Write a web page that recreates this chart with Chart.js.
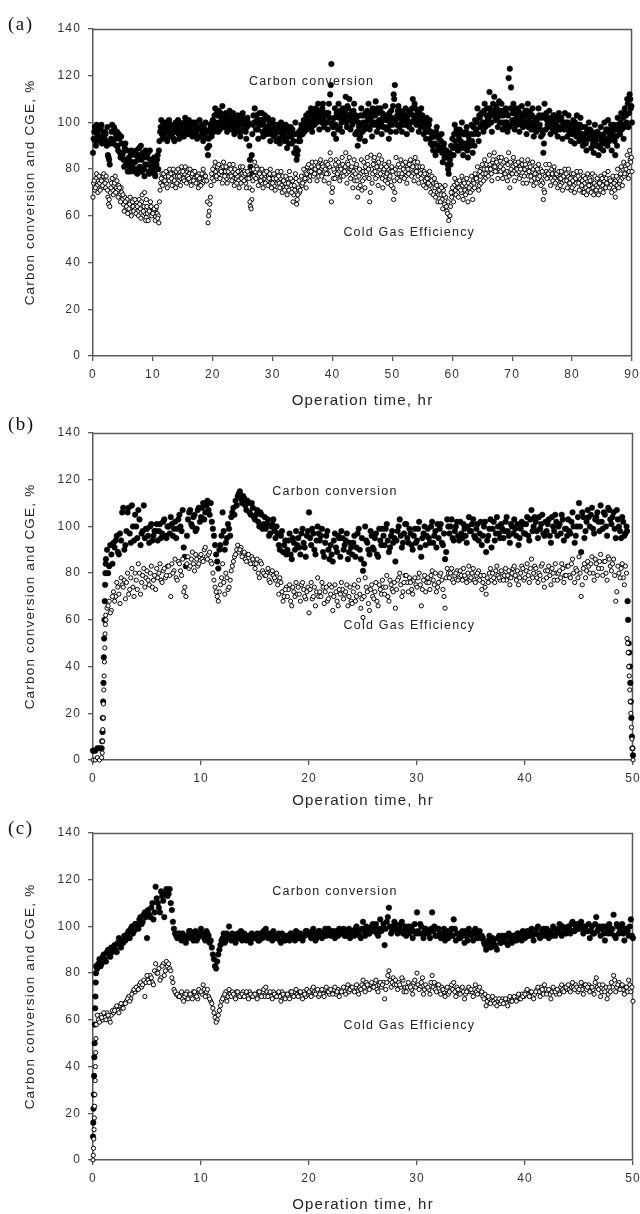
<!DOCTYPE html>
<html><head><meta charset="utf-8">
<script src="https://cdn.jsdelivr.net/npm/chart.js@4.4.1/dist/chart.umd.min.js"></script>
<style>
html,body{margin:0;padding:0;background:#fff;}
#wrap{position:relative;width:640px;height:1214px;overflow:hidden;background:#fff;}
.panel{position:absolute;left:0;width:640px;}
.panel canvas{display:block;}
.tag{position:absolute;left:8px;font-family:"Liberation Serif","Times New Roman",serif;font-size:19px;letter-spacing:1.5px;color:#111;line-height:22px;}
</style></head><body>
<div id="wrap">
  <div class="panel" style="top:0;height:410px"><canvas id="ca" width="640" height="410" style="width:640px;height:410px"></canvas></div>
  <div class="panel" style="top:404px;height:406px"><canvas id="cb" width="640" height="406" style="width:640px;height:406px"></canvas></div>
  <div class="panel" style="top:804px;height:410px"><canvas id="cc" width="640" height="410" style="width:640px;height:410px"></canvas></div>
  <div class="tag" style="top:13px">(a)</div>
  <div class="tag" style="top:413px">(b)</div>
  <div class="tag" style="top:817px">(c)</div>
</div>
<script>
// ---------- tick labels ----------
const Y_TICKS = [0,20,40,60,80,100,120,140];
const X_TICKS_A = [0,10,20,30,40,50,60,70,80,90];
const X_TICKS_BC = [0,10,20,30,40,50];

// ---------- panel (a) ----------
const TIME_A = [
0,.2,.4,.6,.8,1,1.2,1.4,1.6,1.8,
2,2.2,2.4,2.6,2.8,3,3.2,3.4,3.6,3.8,
4,4.2,4.4,4.6,4.8,5,5.2,5.4,5.6,5.8,
6,6.2,6.4,6.6,6.8,7,7.2,7.4,7.6,7.8,
8,8.2,8.4,8.6,8.8,9,9.2,9.4,9.6,9.8,
10,10.2,10.4,10.6,10.8,11,11.2,11.4,11.6,11.8,
12,12.2,12.4,12.6,12.8,13,13.2,13.4,13.6,13.8,
14,14.2,14.4,14.6,14.8,15,15.2,15.4,15.6,15.8,
16,16.2,16.4,16.6,16.8,17,17.2,17.4,17.6,17.8,
18,18.2,18.4,18.6,18.8,19,19.2,19.4,19.6,19.8,
20,20.2,20.4,20.6,20.8,21,21.2,21.4,21.6,21.8,
22,22.2,22.4,22.6,22.8,23,23.2,23.4,23.6,23.8,
24,24.2,24.4,24.6,24.8,25,25.2,25.4,25.6,25.8,
26,26.2,26.4,26.6,26.8,27,27.2,27.4,27.6,27.8,
28,28.2,28.4,28.6,28.8,29,29.2,29.4,29.6,29.8,
30,30.2,30.4,30.6,30.8,31,31.2,31.4,31.6,31.8,
32,32.2,32.4,32.6,32.8,33,33.2,33.4,33.6,33.8,
34,34.2,34.4,34.6,34.8,35,35.2,35.4,35.6,35.8,
36,36.2,36.4,36.6,36.8,37,37.2,37.4,37.6,37.8,
38,38.2,38.4,38.6,38.8,39,39.2,39.4,39.6,39.8,
40,40.2,40.4,40.6,40.8,41,41.2,41.4,41.6,41.8,
42,42.2,42.4,42.6,42.8,43,43.2,43.4,43.6,43.8,
44,44.2,44.4,44.6,44.8,45,45.2,45.4,45.6,45.8,
46,46.2,46.4,46.6,46.8,47,47.2,47.4,47.6,47.8,
48,48.2,48.4,48.6,48.8,49,49.2,49.4,49.6,49.8,
50,50.2,50.4,50.6,50.8,51,51.2,51.4,51.6,51.8,
52,52.2,52.4,52.6,52.8,53,53.2,53.4,53.6,53.8,
54,54.2,54.4,54.6,54.8,55,55.2,55.4,55.6,55.8,
56,56.2,56.4,56.6,56.8,57,57.2,57.4,57.6,57.8,
58,58.2,58.4,58.6,58.8,59,59.2,59.4,59.6,59.8,
60,60.2,60.4,60.6,60.8,61,61.2,61.4,61.6,61.8,
62,62.2,62.4,62.6,62.8,63,63.2,63.4,63.6,63.8,
64,64.2,64.4,64.6,64.8,65,65.2,65.4,65.6,65.8,
66,66.2,66.4,66.6,66.8,67,67.2,67.4,67.6,67.8,
68,68.2,68.4,68.6,68.8,69,69.2,69.4,69.6,69.8,
70,70.2,70.4,70.6,70.8,71,71.2,71.4,71.6,71.8,
72,72.2,72.4,72.6,72.8,73,73.2,73.4,73.6,73.8,
74,74.2,74.4,74.6,74.8,75,75.2,75.4,75.6,75.8,
76,76.2,76.4,76.6,76.8,77,77.2,77.4,77.6,77.8,
78,78.2,78.4,78.6,78.8,79,79.2,79.4,79.6,79.8,
80,80.2,80.4,80.6,80.8,81,81.2,81.4,81.6,81.8,
82,82.2,82.4,82.6,82.8,83,83.2,83.4,83.6,83.8,
84,84.2,84.4,84.6,84.8,85,85.2,85.4,85.6,85.8,
86,86.2,86.4,86.6,86.8,87,87.2,87.4,87.6,87.8,
88,88.2,88.4,88.6,88.8,89,89.2,89.4,89.6,89.8,
90];
const CARBON_A = [
87,96,92,99,94, 97,92,99,94,96, 96,92,98,85,82, 93,99,91,97,95, 96,88,93,85,91, 87,81,91,84,79, 85,79,88,82,80, 83,88,78,86,81, 90,79,85,77,88, 82,87,78,84,80,
79,85,77,82,86, 88,96,101,93,99, 95,100,92,98,96, 99,94,97,92,100, 96,101,93,99,95, 98,94,102,96,100, 101,95,98,94,99, 96,100,93,98,101, 94,99,92,97,100, 96,86,90,99,94,
101,96,106,98,103, 105,97,102,107,99, 98,104,96,101,105, 102,97,104,95,100, 96,103,99,94,101, 104,97,100,93,102, 99,84,78,95,103, 106,97,101,93,104, 99,104,94,101,97, 95,102,98,92,100,
101,94,97,92,99, 96,91,100,94,98, 92,99,89,96,94, 98,91,95,87,100, 84,88,96,92,99, 95,101,97,103,99, 104,98,106,96,101, 99,106,102,108,97, 105,100,108,98,103, 104,97,108,112,125,
100,95,106,93,103, 108,98,104,96,101, 102,111,98,106,110, 97,104,100,108,95, 102,90,98,94,106, 96,103,92,100,105, 108,97,102,94,105, 99,109,96,104,101, 106,95,102,98,107, 97,103,93,100,105,
99,112,116,96,103, 107,98,103,96,101, 100,106,95,103,98, 104,97,110,101,106, 99,105,96,102,106, 103,95,100,93,98, 97,101,91,95,88, 94,86,98,90,93, 89,95,83,91,86, 88,82,78,84,90,
93,86,99,90,96, 88,97,92,100,86, 95,89,98,85,92, 90,99,87,95,101, 97,106,92,102,99, 104,96,108,100,106, 99,113,104,96,108, 111,101,106,98,109, 103,108,97,105,100, 104,96,119,123,115,
101,108,97,104,99, 106,96,102,107,98, 99,105,95,108,102, 104,97,106,94,100, 96,102,106,99,94, 103,87,108,97,101, 99,105,95,102,97, 103,96,100,94,104, 97,102,93,100,104, 100,94,103,96,92,
95,101,91,98,103, 99,92,102,95,90, 92,98,88,96,100, 97,89,94,87,99, 90,96,86,93,98, 94,88,100,91,97, 101,92,97,88,95, 99,86,94,102,97, 95,104,99,93,106, 103,110,98,112,106,
100];
const CGE_A = [
68,75,72,78,70, 77,71,75,73,78, 74,77,71,65,64, 72,76,69,74,70, 75,68,72,66,70, 69,62,66,64,61, 63,68,60,66,62, 67,61,64,60,65, 59,69,62,70,58, 64,58,62,66,60,
61,63,58,64,59, 57,71,76,73,78, 75,79,72,77,80, 78,73,80,75,72, 74,80,77,73,81, 79,75,81,74,77, 76,80,73,78,75, 79,74,77,72,76, 73,78,80,75,77, 75,57,62,68,78,
80,75,83,77,81, 82,76,79,74,83, 77,81,74,79,82, 80,75,82,73,78, 74,79,72,81,76, 81,75,78,72,79, 76,66,63,71,80, 83,76,80,73,78, 75,80,72,78,74, 79,73,76,80,72,
74,78,71,76,79, 77,72,79,70,75, 71,77,69,74,79, 76,70,66,73,78, 65,69,75,71,77, 74,80,76,72,81, 82,75,79,83,77, 78,83,75,81,79, 84,77,81,75,80, 78,82,74,87,66,
72,80,76,84,78, 83,75,80,85,77, 79,87,74,82,85, 76,81,72,84,78, 82,68,77,73,84, 75,83,72,79,85, 80,66,86,74,82, 85,76,81,73,86, 78,84,72,80,75, 81,74,83,77,73,
79,67,70,85,76, 82,75,84,78,80, 76,83,74,80,82, 84,77,81,75,85, 79,83,74,81,76, 81,73,78,72,76, 74,79,70,77,69, 76,68,73,66,71, 66,72,63,69,73, 64,61,58,60,70,
72,66,76,69,74, 68,75,71,77,67, 74,69,76,66,72, 70,77,67,74,78, 76,81,71,79,74, 82,75,84,78,80, 77,86,80,75,84, 87,79,83,76,85, 81,85,76,83,78, 84,75,87,72,80,
78,85,75,82,80, 83,76,80,84,74, 77,82,74,84,79, 81,75,83,73,78, 74,80,82,77,73, 79,67,70,82,76, 78,82,73,80,75, 81,74,78,72,79, 73,79,71,77,80, 78,72,80,74,71,
72,78,70,76,79, 77,71,79,73,70, 70,76,69,78,73, 75,70,78,69,77, 71,76,69,74,77, 76,70,78,72,74, 79,72,75,70,77, 74,68,77,80,72, 75,81,73,83,78, 80,86,76,88,83,
79];
// second (interleaved) readings of panel (a)
const TIME_A2 = [
.1,.3,.5,.7,.9,1.1,1.3,1.5,1.7,1.9,
2.1,2.3,2.5,2.7,2.9,3.1,3.3,3.5,3.7,3.9,
4.1,4.3,4.5,4.7,4.9,5.1,5.3,5.5,5.7,5.9,
6.1,6.3,6.5,6.7,6.9,7.1,7.3,7.5,7.7,7.9,
8.1,8.3,8.5,8.7,8.9,9.1,9.3,9.5,9.7,9.9,
10.1,10.3,10.5,10.7,10.9,11.1,11.3,11.5,11.7,11.9,
12.1,12.3,12.5,12.7,12.9,13.1,13.3,13.5,13.7,13.9,
14.1,14.3,14.5,14.7,14.9,15.1,15.3,15.5,15.7,15.9,
16.1,16.3,16.5,16.7,16.9,17.1,17.3,17.5,17.7,17.9,
18.1,18.3,18.5,18.7,18.9,19.1,19.3,19.5,19.7,19.9,
20.1,20.3,20.5,20.7,20.9,21.1,21.3,21.5,21.7,21.9,
22.1,22.3,22.5,22.7,22.9,23.1,23.3,23.5,23.7,23.9,
24.1,24.3,24.5,24.7,24.9,25.1,25.3,25.5,25.7,25.9,
26.1,26.3,26.5,26.7,26.9,27.1,27.3,27.5,27.7,27.9,
28.1,28.3,28.5,28.7,28.9,29.1,29.3,29.5,29.7,29.9,
30.1,30.3,30.5,30.7,30.9,31.1,31.3,31.5,31.7,31.9,
32.1,32.3,32.5,32.7,32.9,33.1,33.3,33.5,33.7,33.9,
34.1,34.3,34.5,34.7,34.9,35.1,35.3,35.5,35.7,35.9,
36.1,36.3,36.5,36.7,36.9,37.1,37.3,37.5,37.7,37.9,
38.1,38.3,38.5,38.7,38.9,39.1,39.3,39.5,39.7,39.9,
40.1,40.3,40.5,40.7,40.9,41.1,41.3,41.5,41.7,41.9,
42.1,42.3,42.5,42.7,42.9,43.1,43.3,43.5,43.7,43.9,
44.1,44.3,44.5,44.7,44.9,45.1,45.3,45.5,45.7,45.9,
46.1,46.3,46.5,46.7,46.9,47.1,47.3,47.5,47.7,47.9,
48.1,48.3,48.5,48.7,48.9,49.1,49.3,49.5,49.7,49.9,
50.1,50.3,50.5,50.7,50.9,51.1,51.3,51.5,51.7,51.9,
52.1,52.3,52.5,52.7,52.9,53.1,53.3,53.5,53.7,53.9,
54.1,54.3,54.5,54.7,54.9,55.1,55.3,55.5,55.7,55.9,
56.1,56.3,56.5,56.7,56.9,57.1,57.3,57.5,57.7,57.9,
58.1,58.3,58.5,58.7,58.9,59.1,59.3,59.5,59.7,59.9,
60.1,60.3,60.5,60.7,60.9,61.1,61.3,61.5,61.7,61.9,
62.1,62.3,62.5,62.7,62.9,63.1,63.3,63.5,63.7,63.9,
64.1,64.3,64.5,64.7,64.9,65.1,65.3,65.5,65.7,65.9,
66.1,66.3,66.5,66.7,66.9,67.1,67.3,67.5,67.7,67.9,
68.1,68.3,68.5,68.7,68.9,69.1,69.3,69.5,69.7,69.9,
70.1,70.3,70.5,70.7,70.9,71.1,71.3,71.5,71.7,71.9,
72.1,72.3,72.5,72.7,72.9,73.1,73.3,73.5,73.7,73.9,
74.1,74.3,74.5,74.7,74.9,75.1,75.3,75.5,75.7,75.9,
76.1,76.3,76.5,76.7,76.9,77.1,77.3,77.5,77.7,77.9,
78.1,78.3,78.5,78.7,78.9,79.1,79.3,79.5,79.7,79.9,
80.1,80.3,80.5,80.7,80.9,81.1,81.3,81.5,81.7,81.9,
82.1,82.3,82.5,82.7,82.9,83.1,83.3,83.5,83.7,83.9,
84.1,84.3,84.5,84.7,84.9,85.1,85.3,85.5,85.7,85.9,
86.1,86.3,86.5,86.7,86.9,87.1,87.3,87.5,87.7,87.9,
88.1,88.3,88.5,88.7,88.9,89.1,89.3,89.5,89.7,89.9];
const CARBON_A2 = [
93,98,90,95,97, 94,98,91,96,93, 95,90,86,84,91, 96,92,98,93,90, 90,95,87,94,86, 84,89,82,88,83, 81,86,83,87,79, 86,80,84,89,79, 84,87,80,82,86, 85,79,88,81,83,
83,78,81,84,80, 92,98,95,100,97, 98,93,96,101,94, 95,98,93,96,98, 98,95,100,97,94, 96,100,97,99,95, 97,99,96,100,97, 99,95,97,94,97, 97,95,98,94,96, 89,93,97,95,100,
98,103,100,104,96, 100,104,98,103,101, 102,99,103,98,100, 99,101,98,102,97, 100,98,102,96,103, 99,101,96,98,100, 90,81,86,99,100, 100,103,97,99,101, 101,96,99,103,95, 98,96,100,95,97,
97,99,95,98,96, 93,97,96,99,95, 96,93,98,91,97, 94,97,92,95,89, 86,92,94,97,95, 98,96,100,97,101, 100,103,98,104,102, 103,100,105,101,104, 102,106,101,104,100, 100,104,102,116,99,
98,102,99,104,97, 102,105,100,106,103, 104,100,107,103,101, 102,99,105,101,103, 96,100,93,103,99, 100,97,104,98,102, 101,104,99,106,100, 103,100,106,98,105, 100,104,98,103,101, 101,98,104,96,102,
107,110,101,99,105, 102,105,100,104,99, 103,99,101,105,100, 100,106,103,108,102, 103,100,104,98,101, 99,101,97,102,96, 99,93,96,90,94, 91,96,88,94,89, 92,87,90,85,88, 85,80,87,82,86,
89,95,92,97,88, 94,90,96,89,95, 91,96,88,94,90, 95,92,98,90,97, 100,95,103,98,104, 100,105,98,103,101, 102,106,100,105,103, 104,107,102,105,100, 105,100,103,98,106, 100,103,98,106,99,
104,100,106,102,105, 100,104,99,103,101, 103,100,105,98,104, 100,103,98,102,97, 101,98,103,97,102, 95,91,102,104,99, 102,98,101,99,103, 99,101,97,102,98, 101,98,100,97,99, 98,100,96,99,97,
99,96,100,94,97, 96,99,94,98,93, 95,91,97,93,94, 93,96,91,95,92, 94,90,95,89,92, 91,95,93,97,90, 96,94,99,93,97, 92,97,90,99,95, 100,97,102,98,104, 100,108,104,110,107];
const CGE_A2 = [
74,71,76,73,75, 74,76,72,77,75, 72,75,68,67,70, 74,71,73,77,72, 71,73,69,72,67, 65,68,63,67,65, 65,62,67,64,66, 63,66,62,67,63, 66,60,64,61,67, 61,63,60,64,62,
62,60,63,61,60, 66,74,78,75,76, 77,74,78,75,79, 76,78,74,77,79, 77,75,79,76,78, 76,78,75,79,80, 78,75,77,79,76, 75,77,74,78,73, 76,74,78,77,75, 66,60,65,73,76,
78,81,79,76,80, 78,80,77,81,79, 79,76,80,77,78, 77,79,76,80,76, 77,75,79,74,78, 77,79,74,76,78, 72,64,67,75,77, 79,81,77,80,75, 77,74,79,76,77, 75,77,78,74,76,
76,73,77,74,75, 74,76,73,77,72, 74,72,76,71,75, 73,75,69,71,76, 67,72,70,74,73, 77,75,79,78,76, 79,77,81,78,80, 80,78,82,77,81, 80,82,78,79,83, 80,78,81,84,70,
76,79,82,77,80, 79,81,77,82,80, 81,78,83,79,80, 80,77,79,75,81, 75,72,80,78,71, 79,76,81,78,82, 76,70,80,78,84, 79,82,77,83,80, 81,76,79,82,77, 78,80,76,79,81,
72,75,80,78,81, 78,81,77,82,79, 79,77,81,78,80, 80,82,78,83,79, 81,77,79,78,80, 77,79,75,78,74, 76,73,75,72,74, 72,74,70,69,73, 69,67,71,65,68, 62,66,60,64,68,
70,73,71,75,72, 72,74,70,73,75, 71,73,70,74,71, 73,71,75,72,76, 75,78,73,77,80, 78,80,76,82,79, 80,82,78,83,81, 81,84,79,82,80, 79,82,80,78,83, 79,82,77,83,78,
81,79,83,78,82, 79,81,77,82,80, 80,78,81,77,82, 77,79,80,76,81, 78,76,79,80,75, 74,71,77,79,78, 77,79,76,78,80, 76,78,75,77,76, 76,74,78,75,77, 75,77,74,76,78,
75,73,77,74,76, 74,76,72,75,77, 74,72,75,71,76, 73,75,72,74,71, 73,72,74,71,75, 73,75,72,76,73, 74,76,73,75,72, 71,75,73,76,74, 78,76,80,77,81, 78,82,79,84,85];

// ---------- panel (b) ----------
const TIME_B = [
0,.2,.4,.6,.8,
.85,.88,.91,.94,.97,1,1.03,1.06,1.09,1.12,1.15,1.18,
1.2,1.4,1.6,1.8,
2,2.2,2.4,2.6,2.8,3,3.2,3.4,3.6,3.8,
4,4.2,4.4,4.6,4.8,5,5.2,5.4,5.6,5.8,
6,6.2,6.4,6.6,6.8,7,7.2,7.4,7.6,7.8,
8,8.2,8.4,8.6,8.8,9,9.2,9.4,9.6,9.8,
10,10.2,10.4,10.6,10.8,11,11.2,11.4,11.6,11.8,
12,12.2,12.4,12.6,12.8,13,13.2,13.4,13.6,13.8,
14,14.2,14.4,14.6,14.8,15,15.2,15.4,15.6,15.8,
16,16.2,16.4,16.6,16.8,17,17.2,17.4,17.6,17.8,
18,18.2,18.4,18.6,18.8,19,19.2,19.4,19.6,19.8,
20,20.2,20.4,20.6,20.8,21,21.2,21.4,21.6,21.8,
22,22.2,22.4,22.6,22.8,23,23.2,23.4,23.6,23.8,
24,24.2,24.4,24.6,24.8,25,25.2,25.4,25.6,25.8,
26,26.2,26.4,26.6,26.8,27,27.2,27.4,27.6,27.8,
28,28.2,28.4,28.6,28.8,29,29.2,29.4,29.6,29.8,
30,30.2,30.4,30.6,30.8,31,31.2,31.4,31.6,31.8,
32,32.2,32.4,32.6,32.8,33,33.2,33.4,33.6,33.8,
34,34.2,34.4,34.6,34.8,35,35.2,35.4,35.6,35.8,
36,36.2,36.4,36.6,36.8,37,37.2,37.4,37.6,37.8,
38,38.2,38.4,38.6,38.8,39,39.2,39.4,39.6,39.8,
40,40.2,40.4,40.6,40.8,41,41.2,41.4,41.6,41.8,
42,42.2,42.4,42.6,42.8,43,43.2,43.4,43.6,43.8,
44,44.2,44.4,44.6,44.8,45,45.2,45.4,45.6,45.8,
46,46.2,46.4,46.6,46.8,47,47.2,47.4,47.6,47.8,
48,48.2,48.4,48.6,48.8,
49,49.2,49.4,
49.45,49.5,49.55,49.6,49.65,49.7,49.75,49.8,49.85,49.9,49.95,50];
const CARBON_B = [
4,4,5,5,5,
8,12,18,25,33,44,52,60,68,75,80,84,
86,80,92,84,
91,96,88,94,108, 92,106,97,109,94,
100,107,92,98,95, 99,93,101,96,98,
94,101,97,103,95, 100,104,96,102,99,
105,98,91,83,103, 107,100,105,99,108,
104,110,106,111,105, 102,96,88,82,92,
106,90,95,99,104, 108,111,113,115,110,
112,107,110,105,108, 103,107,100,105,101,
99,103,97,101,98, 100,92,96,89,94,
90,97,86,93,98, 95,88,99,91,96,
106,92,97,88,100, 94,99,87,96,90,
92,85,97,89,95, 98,90,94,86,93,
88,96,91,99,86, 81,100,93,88,96,
90,97,87,94,99, 92,101,89,96,93,
85,98,103,91,97, 101,93,97,90,99,
94,102,87,97,92, 99,93,102,96,91,
95,101,92,86,103, 97,103,94,100,96,
102,95,99,93,104, 98,103,95,101,97,
92,100,89,96,103, 99,94,104,97,101,
95,102,98,93,100, 103,96,92,99,101,
97,104,94,107,100, 102,95,99,105,96,
98,103,93,100,105, 96,101,105,94,99,
103,97,106,93,100, 110,89,104,98,107,
100,108,97,104,102, 109,99,105,96,107,
101,106,95,103,98,
104,96,100,
98,68,60,50,46,40,33,25,18,10,5,2];
const CGE_B = [
0,0,1,0,1,
3,8,13,18,24,30,36,42,48,54,58,62,
60,66,63,70,
68,76,71,78,74, 69,80,73,82,70,
77,84,71,79,74, 81,75,83,77,73,
78,84,76,82,79, 83,70,80,86,77,
84,79,72,70,87, 83,89,81,86,84,
88,85,91,86,89, 84,77,72,68,75,
84,71,78,74,81, 85,88,92,90,87,
89,85,88,84,86, 82,86,78,84,80,
79,82,76,81,78, 80,71,76,68,73,
70,75,66,72,76, 74,68,76,70,72,
63,76,70,66,78, 72,76,67,74,69,
71,64,75,68,73, 76,69,72,66,74,
67,75,70,77,65, 61,78,72,64,75,
69,76,66,73,77, 71,79,68,75,72,
65,77,80,70,76, 79,72,76,71,78,
74,80,66,77,72, 78,73,81,75,72,
76,80,73,65,82, 78,82,76,80,77,
81,77,79,76,83, 78,82,76,80,77,
73,79,71,76,82, 80,76,83,78,81,
77,82,79,75,80, 83,77,75,80,82,
78,84,76,86,80, 82,76,79,84,74,
78,83,75,80,84, 77,81,84,76,79,
83,78,86,76,81, 87,70,82,78,85,
80,87,77,84,82, 88,79,85,77,86,
81,86,68,83,78,
84,75,80,
52,50,46,40,36,30,25,20,14,9,5,0];
// second (interleaved) readings of panel (b)
const TIME_B2 = [
1.3,1.5,1.7,1.9,
2.1,2.3,2.5,2.7,2.9,3.1,3.3,3.5,3.7,3.9,
4.1,4.3,4.5,4.7,4.9,5.1,5.3,5.5,5.7,5.9,
6.1,6.3,6.5,6.7,6.9,7.1,7.3,7.5,7.7,7.9,
8.1,8.3,8.5,8.7,8.9,9.1,9.3,9.5,9.7,9.9,
10.1,10.3,10.5,10.7,10.9,11.1,11.3,11.5,11.7,11.9,
12.1,12.3,12.5,12.7,12.9,13.1,13.3,13.5,13.7,13.9,
14.1,14.3,14.5,14.7,14.9,15.1,15.3,15.5,15.7,15.9,
16.1,16.3,16.5,16.7,16.9,17.1,17.3,17.5,17.7,17.9,
18.1,18.3,18.5,18.7,18.9,19.1,19.3,19.5,19.7,19.9,
20.1,20.3,20.5,20.7,20.9,21.1,21.3,21.5,21.7,21.9,
22.1,22.3,22.5,22.7,22.9,23.1,23.3,23.5,23.7,23.9,
24.1,24.3,24.5,24.7,24.9,25.1,25.3,25.5,25.7,25.9,
26.1,26.3,26.5,26.7,26.9,27.1,27.3,27.5,27.7,27.9,
28.1,28.3,28.5,28.7,28.9,29.1,29.3,29.5,29.7,29.9,
30.1,30.3,30.5,30.7,30.9,31.1,31.3,31.5,31.7,31.9,
32.1,32.3,32.5,32.7,32.9,33.1,33.3,33.5,33.7,33.9,
34.1,34.3,34.5,34.7,34.9,35.1,35.3,35.5,35.7,35.9,
36.1,36.3,36.5,36.7,36.9,37.1,37.3,37.5,37.7,37.9,
38.1,38.3,38.5,38.7,38.9,39.1,39.3,39.5,39.7,39.9,
40.1,40.3,40.5,40.7,40.9,41.1,41.3,41.5,41.7,41.9,
42.1,42.3,42.5,42.7,42.9,43.1,43.3,43.5,43.7,43.9,
44.1,44.3,44.5,44.7,44.9,45.1,45.3,45.5,45.7,45.9,
46.1,46.3,46.5,46.7,46.9,47.1,47.3,47.5,47.7,47.9,
48.1,48.3,48.5,48.7,48.9,
49.1,49.3];
const CARBON_B2 = [
90,83,88,93,
94,89,97,106,90, 98,108,93,100,105,
95,103,97,109,99, 96,100,94,98,101,
98,95,102,96,100, 97,101,99,95,103,
100,107,87,96,106, 101,104,98,107,102,
108,103,109,107,110, 99,92,85,90,96,
98,93,101,96,106, 105,109,114,112,113,
109,111,106,110,104, 105,102,106,99,104,
101,96,100,103,95, 97,90,98,92,88,
94,88,95,90,92, 91,97,93,87,98,
95,99,90,94,97, 96,89,93,98,86,
88,94,91,96,87, 95,92,97,89,91,
93,87,97,90,95, 84,94,90,98,91,
95,88,99,92,96, 99,94,91,98,95,
94,100,96,93,101, 95,99,92,96,93,
99,91,95,100,96, 95,100,93,98,101,
99,93,97,89,100, 100,95,98,102,94,
97,101,96,100,98, 101,96,99,94,102,
96,102,94,99,91, 102,97,100,95,99,
98,104,96,101,97, 99,101,95,102,97,
101,96,103,98,104, 98,104,101,97,102,
101,96,104,98,102, 100,97,103,99,96,
98,102,100,96,104, 100,106,95,102,104,
105,99,103,106,98, 102,106,100,108,103,
104,99,107,100,95,
102,97];
const CGE_B2 = [
65,68,64,72,
70,74,67,75,77, 76,71,78,74,80,
73,80,76,82,78, 77,80,74,79,82,
80,77,81,78,83, 79,84,81,78,85,
81,86,74,84,82, 86,84,88,83,87,
86,90,87,88,85, 80,74,70,72,78,
76,80,73,77,83, 87,90,89,91,88,
86,88,85,87,84, 84,80,85,81,79,
80,77,80,79,77, 75,78,72,70,74,
73,68,74,70,71, 71,75,73,69,74,
73,69,74,72,70, 70,74,72,68,75,
74,70,72,66,71, 73,71,75,70,68,
72,68,74,71,69, 70,74,67,73,70,
72,68,75,71,74, 74,70,77,73,76,
73,78,75,72,79, 76,78,73,77,75,
78,75,73,79,76, 76,79,77,80,74,
79,77,70,78,80, 80,77,79,81,78,
79,82,78,80,77, 80,77,79,81,79,
76,74,78,80,77, 78,81,79,77,80,
79,77,81,78,82, 79,81,78,83,77,
81,79,82,78,83, 78,80,83,77,81,
81,79,82,77,80, 80,78,82,79,83,
79,84,80,82,78, 80,75,84,81,83,
84,80,86,79,85, 82,85,80,87,83,
84,79,72,80,82,
78,83];

// ---------- panel (c) ----------
const TIME_C = [
0,.025,.05,.075,.1,.125,.15,.175,.2,.225,.25,.275,.3,
.4,.6,.8,
1,1.2,1.4,1.6,1.8,2,2.2,2.4,2.6,2.8,
3,3.2,3.4,3.6,3.8,4,4.2,4.4,4.6,4.8,
5,5.2,5.4,5.6,5.8,6,6.2,6.4,6.6,6.8,
7,7.2,7.4,7.6,7.8,8,8.2,8.4,8.6,8.8,
9,9.2,9.4,9.6,9.8,10,10.2,10.4,10.6,10.8,
11,11.2,11.4,11.6,11.8,12,12.2,12.4,12.6,12.8,
13,13.2,13.4,13.6,13.8,14,14.2,14.4,14.6,14.8,
15,15.2,15.4,15.6,15.8,16,16.2,16.4,16.6,16.8,
17,17.2,17.4,17.6,17.8,18,18.2,18.4,18.6,18.8,
19,19.2,19.4,19.6,19.8,20,20.2,20.4,20.6,20.8,
21,21.2,21.4,21.6,21.8,22,22.2,22.4,22.6,22.8,
23,23.2,23.4,23.6,23.8,24,24.2,24.4,24.6,24.8,
25,25.2,25.4,25.6,25.8,26,26.2,26.4,26.6,26.8,
27,27.2,27.4,27.6,27.8,28,28.2,28.4,28.6,28.8,
29,29.2,29.4,29.6,29.8,30,30.2,30.4,30.6,30.8,
31,31.2,31.4,31.6,31.8,32,32.2,32.4,32.6,32.8,
33,33.2,33.4,33.6,33.8,34,34.2,34.4,34.6,34.8,
35,35.2,35.4,35.6,35.8,36,36.2,36.4,36.6,36.8,
37,37.2,37.4,37.6,37.8,38,38.2,38.4,38.6,38.8,
39,39.2,39.4,39.6,39.8,40,40.2,40.4,40.6,40.8,
41,41.2,41.4,41.6,41.8,42,42.2,42.4,42.6,42.8,
43,43.2,43.4,43.6,43.8,44,44.2,44.4,44.6,44.8,
45,45.2,45.4,45.6,45.8,46,46.2,46.4,46.6,46.8,
47,47.2,47.4,47.6,47.8,48,48.2,48.4,48.6,48.8,
49,49.2,49.4,49.6,49.8,
50];
const CARBON_C = [
10,16,22,28,36,44,50,58,65,70,76,80,83,
82,86,84,
88,85,90,87,89, 92,89,95,91,93,
94,97,95,100,98, 101,99,104,102,106,
95,105,108,103,117, 110,106,113,104,116,
114,110,102,97,95, 97,94,96,93,95,
98,95,97,94,96, 99,96,94,97,93,
91,86,82,88,92, 95,93,97,100,94,
96,93,97,95,94, 97,94,96,93,95,
95,97,94,96,98, 99,95,97,94,96,
95,97,93,96,94, 96,94,97,95,98,
95,97,94,96,98, 97,95,99,94,96,
98,95,97,96,99, 96,98,95,97,99,
97,99,96,98,95, 98,96,100,97,95,
102,96,99,97,100, 98,101,96,103,99,
92,102,108,97,100, 101,97,99,102,98,
96,100,98,95,101, 106,97,100,95,99,
98,95,106,100,96, 99,95,97,94,98,
96,99,103,94,97, 95,98,93,96,99,
97,94,99,95,98, 96,93,90,94,91,
95,92,90,96,93, 94,96,92,95,93,
96,94,97,95,98, 95,98,96,99,94,
97,100,95,98,96, 99,95,97,100,96,
98,101,96,99,97, 100,97,102,98,101,
99,102,97,100,98, 95,100,97,104,99,
96,100,94,98,101, 97,105,95,100,98,
101,94,99,96,103,
95];
const CGE_C = [
0,2,5,9,13,18,23,28,34,40,46,52,58,
62,59,61,
63,60,62,59,64, 64,66,63,67,65,
67,69,68,71,73, 74,73,76,75,70,
79,76,78,75,84, 80,77,83,79,85,
84,81,76,72,71, 70,72,68,71,69,
71,69,72,70,73, 72,75,70,73,69,
67,63,59,62,66, 69,71,68,73,70,
71,69,72,70,71, 70,72,69,71,70,
71,69,72,70,73, 74,70,72,69,71,
70,72,68,71,69, 71,69,72,70,73,
70,72,69,71,73, 72,70,74,71,73,
71,73,70,74,72, 73,71,74,72,70,
72,74,71,75,73, 74,72,75,71,73,
77,72,75,73,76, 74,77,72,76,75,
69,76,81,74,78, 77,73,75,78,72,
72,76,74,71,77, 80,73,76,71,75,
74,71,79,76,72, 75,71,73,70,74,
72,75,76,70,73, 71,74,69,72,74,
73,70,75,71,74, 72,69,66,70,67,
70,67,66,69,68, 67,69,66,70,68,
70,68,71,69,70, 71,73,70,72,69,
72,74,70,73,75, 71,73,69,74,72,
73,71,75,72,74, 75,72,76,73,74,
73,76,71,75,74, 72,74,71,78,73,
70,75,72,69,74, 76,79,72,75,73,
75,71,74,77,72,
68];
// second (interleaved) readings of panel (c)
const TIME_C2 = [
.5,.7,.9,
1.1,1.3,1.5,1.7,1.9,2.1,2.3,2.5,2.7,2.9,
3.1,3.3,3.5,3.7,3.9,4.1,4.3,4.5,4.7,4.9,
5.1,5.3,5.5,5.7,5.9,6.1,6.3,6.5,6.7,6.9,
7.1,7.3,7.5,7.7,7.9,8.1,8.3,8.5,8.7,8.9,
9.1,9.3,9.5,9.7,9.9,10.1,10.3,10.5,10.7,10.9,
11.1,11.3,11.5,11.7,11.9,12.1,12.3,12.5,12.7,12.9,
13.1,13.3,13.5,13.7,13.9,14.1,14.3,14.5,14.7,14.9,
15.1,15.3,15.5,15.7,15.9,16.1,16.3,16.5,16.7,16.9,
17.1,17.3,17.5,17.7,17.9,18.1,18.3,18.5,18.7,18.9,
19.1,19.3,19.5,19.7,19.9,20.1,20.3,20.5,20.7,20.9,
21.1,21.3,21.5,21.7,21.9,22.1,22.3,22.5,22.7,22.9,
23.1,23.3,23.5,23.7,23.9,24.1,24.3,24.5,24.7,24.9,
25.1,25.3,25.5,25.7,25.9,26.1,26.3,26.5,26.7,26.9,
27.1,27.3,27.5,27.7,27.9,28.1,28.3,28.5,28.7,28.9,
29.1,29.3,29.5,29.7,29.9,30.1,30.3,30.5,30.7,30.9,
31.1,31.3,31.5,31.7,31.9,32.1,32.3,32.5,32.7,32.9,
33.1,33.3,33.5,33.7,33.9,34.1,34.3,34.5,34.7,34.9,
35.1,35.3,35.5,35.7,35.9,36.1,36.3,36.5,36.7,36.9,
37.1,37.3,37.5,37.7,37.9,38.1,38.3,38.5,38.7,38.9,
39.1,39.3,39.5,39.7,39.9,40.1,40.3,40.5,40.7,40.9,
41.1,41.3,41.5,41.7,41.9,42.1,42.3,42.5,42.7,42.9,
43.1,43.3,43.5,43.7,43.9,44.1,44.3,44.5,44.7,44.9,
45.1,45.3,45.5,45.7,45.9,46.1,46.3,46.5,46.7,46.9,
47.1,47.3,47.5,47.7,47.9,48.1,48.3,48.5,48.7,48.9,
49.1,49.3,49.5,49.7,49.9];
const CARBON_C2 = [
84,83,87,
86,89,88,91,90, 90,93,92,94,96,
96,98,99,97,101, 100,103,101,105,104,
107,104,110,106,112, 108,115,111,114,113,
116,107,99,96,97, 95,97,94,96,98,
96,94,98,95,97, 97,95,98,96,94,
88,83,85,90,94, 97,94,96,95,97,
94,96,95,98,96, 95,96,94,97,96,
96,94,97,95,97, 97,96,95,98,95,
96,94,97,95,96, 95,97,96,94,97,
97,95,96,98,97, 96,98,97,95,98,
97,96,99,97,98, 97,96,98,96,98,
98,96,97,99,97, 97,99,98,96,99,
98,100,97,99,101, 100,97,99,98,101,
99,104,100,98,102, 99,98,101,97,100,
99,97,100,98,97, 98,101,97,99,97,
97,99,98,96,99, 97,96,99,96,95,
98,96,99,97,95, 97,96,98,94,97,
96,98,97,96,95, 95,92,93,96,93,
94,91,95,93,96, 95,93,97,94,96,
95,97,96,94,96, 97,96,98,96,97,
99,96,97,99,98, 97,98,96,99,98,
99,97,100,98,99, 99,101,98,100,99,
101,99,100,98,101, 98,97,101,98,100,
99,97,100,97,99, 99,96,101,97,100,
97,99,98,100,96];
const CGE_C2 = [
60,62,60,
61,63,60,62,63, 65,64,66,65,67,
68,70,69,72,72, 73,75,74,77,76,
77,79,76,81,80, 82,78,84,81,83,
82,78,73,71,70, 71,69,70,72,70,
70,72,71,69,72, 71,73,72,70,68,
65,61,60,64,68, 70,72,70,71,72,
70,72,71,70,72, 71,70,72,70,71,
70,72,71,72,70, 72,71,70,72,70,
71,70,72,70,71, 70,72,71,72,71,
72,70,72,70,71, 71,73,72,72,70,
72,71,73,72,71, 72,73,71,73,72,
73,72,74,72,74, 73,74,72,74,75,
74,76,74,75,74, 76,73,75,74,76,
73,79,77,76,75, 75,76,74,77,74,
74,75,73,76,74, 75,74,78,73,74,
73,76,74,73,75, 72,74,72,73,71,
74,73,72,74,72, 73,72,71,73,72,
72,73,72,73,71, 70,71,68,69,68,
68,69,68,67,69, 68,67,69,68,69,
69,70,69,71,70, 72,71,72,70,71,
73,72,74,71,73, 72,71,72,73,71,
72,74,73,74,73, 73,74,74,75,72,
74,73,75,73,75, 74,73,76,74,75,
72,73,74,71,72, 74,77,74,76,74,
73,74,72,75,74];

// ---------- in-plot labels (text, time, value) ----------
const LABELS_A = [["Carbon conversion", 36.5, 117.6], ["Cold Gas Efficiency", 52.8, 52.8]];
const LABELS_B = [["Carbon conversion", 22.4, 115], ["Cold Gas Efficiency", 29.3, 57.6]];
const LABELS_C = [["Carbon conversion", 22.4, 115], ["Cold Gas Efficiency", 29.3, 57.4]];

// ---------- drawing ----------
const AXIS = '#595959';
const FONT = '"Liberation Sans", Arial, Helvetica, sans-serif';
Chart.defaults.font.family = FONT;

function check(name, t, a, b) {
  if (t.length !== a.length || t.length !== b.length)
    throw new Error(name + ' length mismatch: ' + t.length + ' ' + a.length + ' ' + b.length);
}

const spacingPlugin = {
  id: 'spacing',
  beforeDraw(chart) { chart.ctx.letterSpacing = '1.2px'; }
};
const framePlugin = {
  id: 'frame',
  beforeDatasetsDraw(chart) {
    const {ctx, chartArea: a} = chart;
    ctx.save();
    ctx.strokeStyle = AXIS; ctx.lineWidth = 1.5;
    ctx.beginPath();
    ctx.moveTo(a.left, a.top + 0.5); ctx.lineTo(a.right - 0.5, a.top + 0.5); ctx.lineTo(a.right - 0.5, a.bottom);
    ctx.stroke();
    ctx.restore();
  }
};
function labelPlugin(labels) {
  return {
    id: 'inlabels',
    afterDatasetsDraw(chart) {
      const {ctx} = chart, xs = chart.scales.x, ys = chart.scales.y;
      ctx.save();
      ctx.letterSpacing = '1.2px';
      ctx.font = '12.5px ' + FONT;
      ctx.fillStyle = '#222';
      ctx.textAlign = 'center'; ctx.textBaseline = 'middle';
      labels.forEach(([txt, t, v]) => ctx.fillText(txt, xs.getPixelForValue(t), ys.getPixelForValue(v)));
      ctx.restore();
    }
  };
}

function makeChart(id, series, xMax, xTicks, labels, lay) {
  const cgeSets = [], ccSets = [];
  series.forEach(([time, carbon, cge], k) => {
    check(id + k, time, carbon, cge);
    const pts = ys => ys.map((y, i) => ({x: time[i], y}));
    cgeSets.push({label: 'Cold Gas Efficiency', data: pts(cge), pointRadius: 2.1, pointBackgroundColor: '#fff',
       pointBorderColor: '#000', pointBorderWidth: 1, clip: false});
    ccSets.push({label: 'Carbon conversion', data: pts(carbon), pointRadius: 2.8, pointBackgroundColor: '#000',
       pointBorderColor: '#000', pointBorderWidth: 0.5, clip: false});
  });
  return new Chart(document.getElementById(id), {
    type: 'scatter',
    data: {datasets: cgeSets.concat(ccSets)},
    options: {
      responsive: false, animation: false, devicePixelRatio: 1, events: [],
      layout: {padding: {top: 29, left: 0, right: lay.right, bottom: 0}},
      plugins: {legend: {display: false}, tooltip: {enabled: false}, title: {display: false}},
      scales: {
        x: {
          type: 'linear', min: 0, max: xMax,
          afterBuildTicks: s => { s.ticks = xTicks.map(v => ({value: v})); },
          afterFit: s => { s.height = lay.xh; s.paddingLeft = 0; s.paddingRight = 0; },
          grid: {display: true, drawOnChartArea: false, drawTicks: true, tickLength: 5, color: AXIS, lineWidth: 1.3},
          border: {display: true, color: AXIS, width: 1.5},
          ticks: {padding: 6, color: '#333', font: {size: 12}, maxRotation: 0, autoSkip: false},
          title: {display: true, text: 'Operation time, hr', color: '#222', font: {size: 15}, padding: {top: 0, bottom: 0}}
        },
        y: {
          type: 'linear', min: 0, max: 140,
          afterBuildTicks: s => { s.ticks = Y_TICKS.map(v => ({value: v})); },
          afterFit: s => { s.width = 93; s.paddingTop = 0; s.paddingBottom = 0; },
          grid: {display: true, drawOnChartArea: false, drawTicks: true, tickLength: 5, color: AXIS, lineWidth: 1.3},
          border: {display: true, color: AXIS, width: 1.5},
          ticks: {padding: 7, color: '#333', font: {size: 12}, autoSkip: false},
          title: {display: true, text: 'Carbon conversion and CGE, %', color: '#222', font: {size: 13.5}, padding: {top: 22, bottom: 0}}
        }
      }
    },
    plugins: [spacingPlugin, framePlugin, labelPlugin(labels)]
  });
}

makeChart('ca', [[TIME_A, CARBON_A, CGE_A], [TIME_A2, CARBON_A2, CGE_A2]], 90, X_TICKS_A, LABELS_A, {right: 8, xh: 54});
makeChart('cb', [[TIME_B, CARBON_B, CGE_B], [TIME_B2, CARBON_B2, CGE_B2]], 50, X_TICKS_BC, LABELS_B, {right: 7, xh: 50});
makeChart('cc', [[TIME_C, CARBON_C, CGE_C], [TIME_C2, CARBON_C2, CGE_C2]], 50, X_TICKS_BC, LABELS_C, {right: 7, xh: 54});
</script>
</body></html>
